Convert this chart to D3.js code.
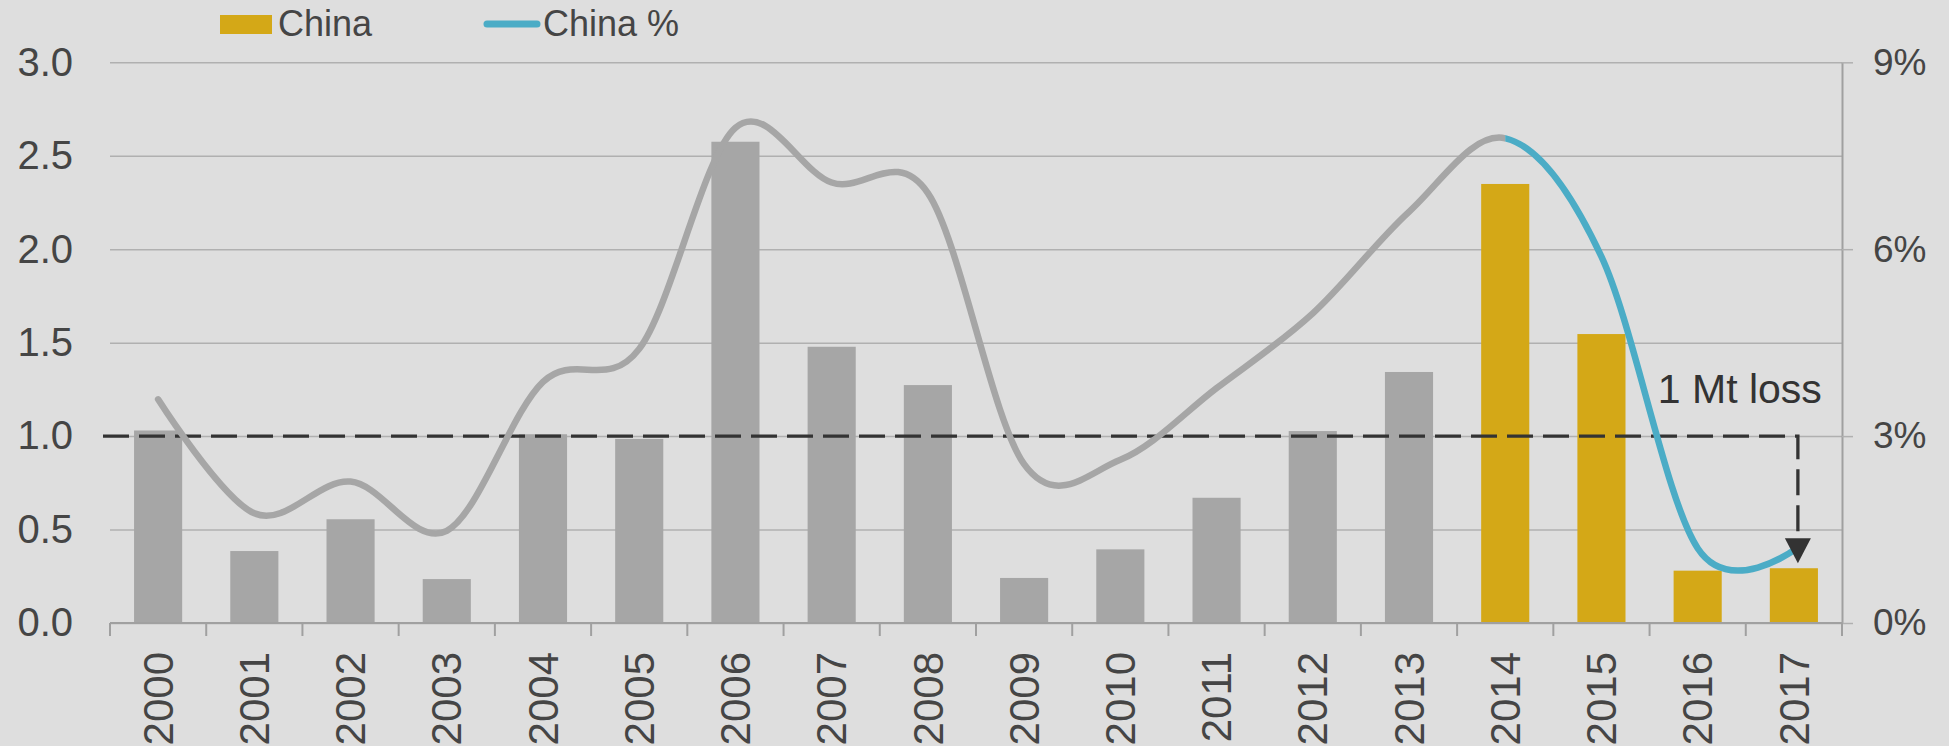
<!DOCTYPE html>
<meta charset="utf-8">
<style>
body { margin: 0; background: #dedede; }
svg { display: block; font-family: "Liberation Sans", Arial, sans-serif; }
.grid line { stroke: #b0b0b0; stroke-width: 1.5; }
.grid path { display: none; }
.axis text { fill: #454545; }
</style>
<svg width="1949" height="746"></svg>
<script src="https://d3js.org/d3.v7.min.js"></script>
<script>

var years = ["2000","2001","2002","2003","2004","2005","2006","2007","2008",
             "2009","2010","2011","2012","2013","2014","2015","2016","2017"];
// bar values (Mt), left axis
var volume = [1.03, 0.385, 0.555, 0.235, 1.01, 0.985, 2.575, 1.478, 1.273,
              0.241, 0.394, 0.67, 1.027, 1.343, 2.349, 1.546, 0.28, 0.293];
// line values (%), right axis
var share = [3.59, 1.76, 2.27, 1.48, 3.87, 4.4, 7.95, 7.07, 6.9,
             2.55, 2.62, 3.77, 4.97, 6.6, 7.78, 5.88, 1.2, 1.17];
var highlightFrom = "2014";
var leftTicks = [0, 0.5, 1, 1.5, 2, 2.5, 3];
var rightTicks = [0, 3, 6, 9];
var lossLevel = 1;

var svg = d3.select("svg"),
    plotL = 110, plotR = 1842, plotT = 62.3, plotB = 623;

var gray = "#a6a6a6", gold = "#d4a817", blue = "#4bacc6";

svg.append("rect").attr("width", 1949).attr("height", 746).attr("fill", "#dedede");

var x = d3.scaleBand().domain(years).range([plotL, plotR])
    .paddingInner(0.5).paddingOuter(0.25);
var y = d3.scaleLinear().domain([0, 3]).range([plotB, plotT]);
var yR = d3.scaleLinear().domain([0, 9]).range([plotB, plotT]);
var xc = function(d) { return x(d) + x.bandwidth() / 2; };

// gridlines + left labels
svg.append("g")
    .attr("class", "grid axis")
    .attr("transform", "translate(" + plotL + ",0)")
    .call(d3.axisLeft(y).tickValues(leftTicks).tickFormat(d3.format(".1f"))
      .tickSize(-(plotR - plotL)).tickPadding(37))
    .selectAll("text").style("font-size", "40px");

// right axis
var ra = svg.append("g")
    .attr("class", "axis")
    .attr("transform", "translate(" + plotR + ",0)")
    .call(d3.axisRight(yR).tickValues(rightTicks).tickFormat(function(d) { return d + "%"; })
      .tickSize(11).tickSizeOuter(0).tickPadding(20));
ra.select(".domain").attr("stroke", "#a0a0a0").attr("stroke-width", 2);
ra.selectAll("line").attr("stroke", "#b0b0b0").attr("stroke-width", 1.5);
ra.selectAll("text").style("font-size", "37px");

// bars
svg.append("g").selectAll("rect")
    .data(years)
  .enter().append("rect")
    .attr("x", function(d) { return x(d); })
    .attr("width", x.bandwidth())
    .attr("y", function(d, i) { return y(volume[i]); })
    .attr("height", function(d, i) { return plotB - y(volume[i]); })
    .attr("fill", function(d) { return +d >= +highlightFrom ? gold : gray; });

// category axis: baseline, ticks between bands, rotated labels
var xa = svg.append("g").attr("class", "axis");
xa.append("line")
    .attr("x1", plotL).attr("x2", plotR)
    .attr("y1", y(0)).attr("y2", y(0))
    .attr("stroke", "#a0a0a0").attr("stroke-width", 2);
xa.selectAll(".tk")
    .data(d3.range(years.length + 1))
  .enter().append("line")
    .attr("x1", function(i) { return plotL + i * x.step(); })
    .attr("x2", function(i) { return plotL + i * x.step(); })
    .attr("y1", y(0)).attr("y2", y(0) + 13)
    .attr("stroke", "#a0a0a0").attr("stroke-width", 2);
xa.selectAll("text")
    .data(years)
  .enter().append("text")
    .attr("transform", function(d) { return "translate(" + xc(d) + "," + (y(0) + 29) + ") rotate(-90)"; })
    .attr("text-anchor", "end")
    .attr("dy", "0.35em")
    .style("font-size", "42px")
    .text(function(d) { return d; });

// dashed "1 Mt" reference with drop to 2017
var last = years[years.length - 1];
var ax = xc(last) + 4;
svg.append("path")
    .attr("d", "M" + (plotL - 7) + "," + y(lossLevel) + "H" + ax + "V" + (y(0.32) - 25))
    .attr("fill", "none")
    .attr("stroke", "#333")
    .attr("stroke-width", 3.3)
    .attr("stroke-dasharray", "26,10");

// share line, gray before the highlight year, blue after
var defs = svg.append("defs");
defs.append("clipPath").attr("id", "clipL").append("rect")
    .attr("x", 0).attr("y", 0).attr("width", xc(highlightFrom)).attr("height", 746);
defs.append("clipPath").attr("id", "clipR").append("rect")
    .attr("x", xc(highlightFrom)).attr("y", 0).attr("width", 1949).attr("height", 746);

var line = d3.line()
    .x(function(d, i) { return xc(years[i]); })
    .y(function(d) { return yR(d); })
    .curve(d3.curveCardinal.tension(0));

svg.append("path")
    .attr("d", line(share))
    .attr("fill", "none").attr("stroke", gray).attr("stroke-width", 6.5)
    .attr("stroke-linecap", "round")
    .attr("clip-path", "url(#clipL)");
svg.append("path")
    .attr("d", line(share))
    .attr("fill", "none").attr("stroke", blue).attr("stroke-width", 6.5)
    .attr("stroke-linecap", "round")
    .attr("clip-path", "url(#clipR)");

// arrow head
var tip = y(0.32);
svg.append("path")
    .attr("d", "M" + (ax - 13) + "," + (tip - 25) + "L" + (ax + 13) + "," + (tip - 25) + "L" + ax + "," + tip + "Z")
    .attr("fill", "#333");

svg.append("text")
    .attr("x", xc(last) + 28)
    .attr("y", y(lossLevel) - 33)
    .attr("text-anchor", "end")
    .attr("fill", "#333")
    .style("font-size", "41px")
    .text("1 Mt loss");

// legend
var lg = svg.append("g");
lg.append("rect").attr("x", 220).attr("y", 15).attr("width", 52).attr("height", 19).attr("fill", gold);
lg.append("text").attr("x", 278).attr("y", 36).attr("fill", "#454545")
    .style("font-size", "36px").text("China");
lg.append("line").attr("x1", 487).attr("x2", 537).attr("y1", 24).attr("y2", 24)
    .attr("stroke", blue).attr("stroke-width", 7).attr("stroke-linecap", "round");
lg.append("text").attr("x", 543).attr("y", 36).attr("fill", "#454545")
    .style("font-size", "36px").text("China %");

</script>
